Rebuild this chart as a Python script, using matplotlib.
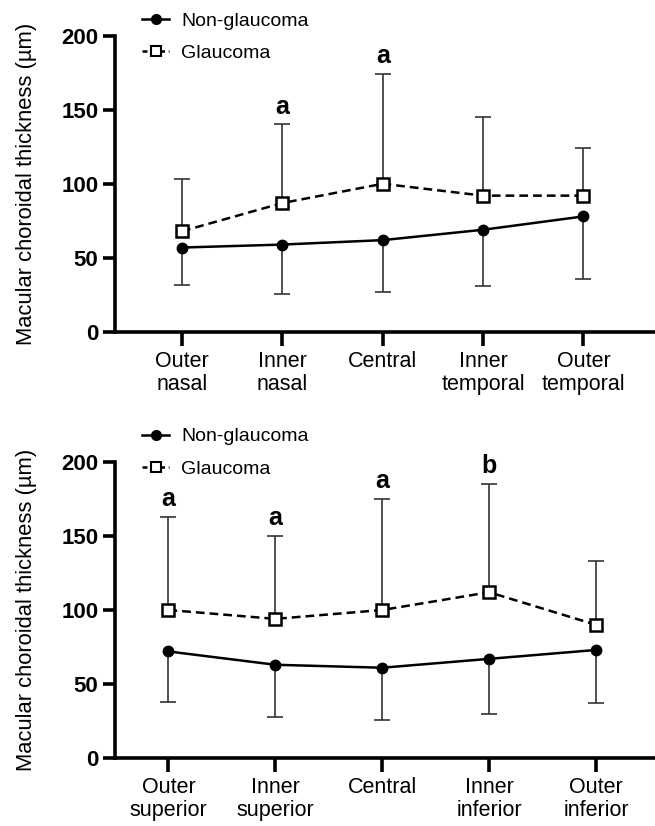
import matplotlib
matplotlib.use("Agg")
import matplotlib.pyplot as plt
from matplotlib.lines import Line2D
import numpy as np

plt.rcParams['font.family'] = ['Liberation Sans', 'DejaVu Sans']

# ---- data ----
top_categories = ["Outer\nnasal", "Inner\nnasal", "Central", "Inner\ntemporal", "Outer\ntemporal"]
top_non_mean = [57, 59, 62, 69, 78]
top_non_sd = [25, 33, 35, 38, 42]
top_gla_mean = [68, 87, 100, 92, 92]
top_gla_sd = [35, 53, 74, 53, 32]
top_marks = ["", "a", "a", "", ""]

bot_categories = ["Outer\nsuperior", "Inner\nsuperior", "Central", "Inner\ninferior", "Outer\ninferior"]
bot_non_mean = [72, 63, 61, 67, 73]
bot_non_sd = [34, 35, 35, 37, 36]
bot_gla_mean = [100, 94, 100, 112, 90]
bot_gla_sd = [63, 56, 75, 73, 43]
bot_marks = ["a", "a", "a", "b", ""]

yticks = [0, 50, 100, 150, 200]
ylabel = "Macular choroidal thickness (µm)"

fig = plt.figure(figsize=(6.55, 8.26), dpi=100)

def panel(rect, cats, nm, nsd, gm, gsd, marks, xlim, legend_y):
    ax = fig.add_axes(rect)
    x = np.arange(len(cats))
    nm = np.array(nm); nsd = np.array(nsd)
    gm = np.array(gm); gsd = np.array(gsd)
    z = np.zeros_like(nm)
    eb = ax.errorbar(x, gm, yerr=[z, gsd], fmt='none', ecolor='#333333',
                     elinewidth=1.2, capsize=6, capthick=1.2, zorder=2)
    eb[1][0].set_visible(False)
    eb2 = ax.errorbar(x, nm, yerr=[nsd, z], fmt='none', ecolor='#333333',
                      elinewidth=1.2, capsize=6, capthick=1.2, zorder=2)
    eb2[1][1].set_visible(False)
    ax.plot(x, nm, color='black', lw=1.8, marker='o', ms=7.5, zorder=4)
    ax.plot(x, gm, color='black', lw=1.8, ls=(0, (3.5, 2)), marker='s', ms=8.5,
            mfc='white', mec='black', mew=1.8, zorder=3)
    for xi, top, m in zip(x, gm + gsd, marks):
        if m:
            ax.text(xi, top + 4, m, ha='center', va='bottom', fontsize=18,
                    fontweight='bold')
    ax.set_ylim(0, 200)
    ax.set_xlim(*xlim)
    ax.set_yticks(yticks)
    ax.set_yticklabels([str(v) for v in yticks], fontsize=16, fontweight='bold')
    ax.set_xticks(x)
    ax.set_xticklabels(cats, fontsize=15.5, linespacing=1.1)
    for s in ['top', 'right']:
        ax.spines[s].set_visible(False)
    for s in ['left', 'bottom']:
        ax.spines[s].set_linewidth(2.6)
    ax.tick_params(axis='y', width=2.6, length=9, pad=3)
    ax.tick_params(axis='x', width=2.6, length=10, pad=4)
    ax.set_ylabel(ylabel, fontsize=15.8)
    ax.yaxis.set_label_coords(-0.145, 0.5)
    h1 = Line2D([], [], color='black', lw=1.8, marker='o', ms=7)
    h2 = Line2D([], [], color='black', lw=1.8, ls=(0, (2, 1.5)), marker='s', ms=7,
                mfc='white', mec='black', mew=1.5)
    fig.legend([h1, h2], ["Non-glaucoma", "Glaucoma"], loc='upper left',
               bbox_to_anchor=(0.217, legend_y), frameon=False, fontsize=14,
               handlelength=1.4, handletextpad=0.6, labelspacing=0.75,
               borderaxespad=0, borderpad=0)
    return ax

panel([0.1756, 0.598, 0.824, 0.359], top_categories, top_non_mean, top_non_sd,
      top_gla_mean, top_gla_sd, top_marks, (-0.667, 4.71), 0.985)
panel([0.1756, 0.0823, 0.824, 0.3584], bot_categories, bot_non_mean, bot_non_sd,
      bot_gla_mean, bot_gla_sd, bot_marks, (-0.5, 4.55), 0.482)

fig.savefig("out.png", dpi=100)
